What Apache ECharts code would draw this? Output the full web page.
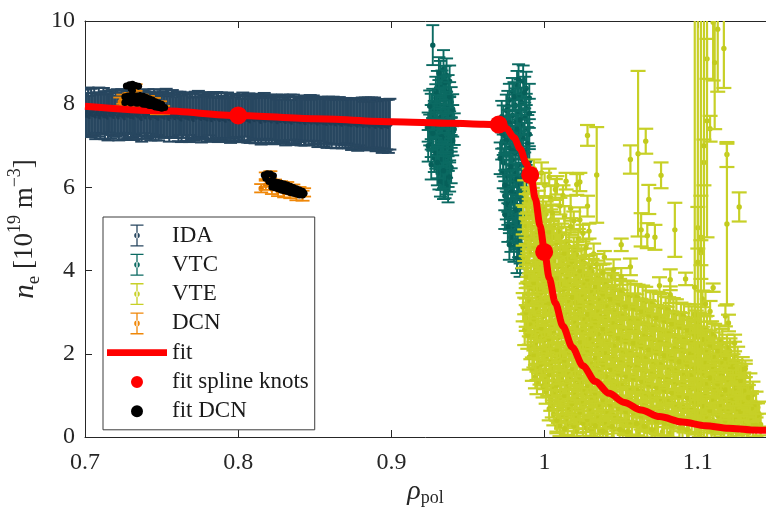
<!DOCTYPE html>
<html>
<head>
<meta charset="utf-8">
<title>n_e profile</title>
<script src="https://cdn.jsdelivr.net/npm/echarts@6.0.0/dist/echarts.min.js"></script>
<style>
  html, body { margin: 0; padding: 0; background: #fff; }
  #chart { width: 766px; height: 510px; }
</style>
</head>
<body>
<div id="chart"></div>
<script>
// Electron density profile: diagnostics with error bars, spline fit and its knots.
// Error-bar rows are [rho_pol, n_e (1e19 m^-3), half-width].

const xTicks = [0.7, 0.8, 0.9, 1, 1.1];
const yTicks = [0, 2, 4, 6, 8, 10];

const idaPts = [
[0.700,7.80,0.55],[0.701,7.74,0.52],[0.702,7.83,0.57],[0.703,7.71,0.49],[0.704,7.79,0.58],[0.705,7.76,0.51],[0.706,7.85,0.54],[0.707,7.72,0.56],[0.708,7.78,0.50],[0.709,7.81,0.59],
[0.710,7.70,0.53],[0.711,7.77,0.48],[0.712,7.84,0.55],[0.713,7.73,0.57],[0.714,7.79,0.52],[0.715,7.69,0.56],[0.716,7.82,0.50],[0.717,7.75,0.58],[0.718,7.80,0.54],[0.719,7.71,0.49],
[0.720,7.78,0.56],[0.721,7.83,0.53],[0.722,7.70,0.57],[0.723,7.76,0.51],[0.724,7.81,0.55],[0.725,7.73,0.59],[0.726,7.68,0.52],[0.727,7.79,0.48],[0.728,7.74,0.56],[0.729,7.82,0.54],
[0.730,7.71,0.50],[0.731,7.77,0.57],[0.732,7.69,0.55],[0.733,7.80,0.52],[0.734,7.75,0.58],[0.735,7.72,0.49],[0.736,7.78,0.54],[0.737,7.66,0.56],[0.738,7.81,0.51],[0.739,7.74,0.57],
[0.740,7.70,0.53],[0.741,7.77,0.59],[0.742,7.79,0.50],[0.743,7.68,0.55],[0.744,7.73,0.52],[0.745,7.80,0.56],[0.746,7.71,0.58],[0.747,7.75,0.49],[0.748,7.67,0.54],[0.749,7.78,0.57],
[0.750,7.72,0.52],[0.751,7.76,0.55],[0.752,7.69,0.50],[0.753,7.79,0.58],[0.754,7.74,0.53],[0.755,7.66,0.56],[0.756,7.71,0.51],[0.757,7.77,0.57],[0.758,7.73,0.54],[0.759,7.68,0.49],
[0.760,7.75,0.55],[0.761,7.70,0.59],[0.762,7.78,0.52],[0.763,7.65,0.56],[0.764,7.72,0.53],[0.765,7.76,0.50],[0.766,7.69,0.57],[0.767,7.74,0.54],[0.768,7.67,0.58],[0.769,7.77,0.51],
[0.770,7.71,0.55],[0.771,7.64,0.52],[0.772,7.73,0.57],[0.773,7.69,0.49],[0.774,7.76,0.56],[0.775,7.70,0.53],[0.776,7.66,0.58],[0.777,7.74,0.54],[0.778,7.68,0.51],[0.779,7.72,0.57],
[0.780,7.65,0.55],[0.781,7.75,0.50],[0.782,7.69,0.56],[0.783,7.63,0.53],[0.784,7.71,0.58],[0.785,7.67,0.52],[0.786,7.74,0.55],[0.787,7.68,0.59],[0.788,7.64,0.51],[0.789,7.72,0.56],
[0.790,7.66,0.54],[0.791,7.70,0.57],[0.792,7.62,0.52],[0.793,7.73,0.55],[0.794,7.67,0.50],[0.795,7.65,0.58],[0.796,7.71,0.53],[0.797,7.69,0.56],[0.798,7.63,0.54],[0.799,7.72,0.51],
[0.800,7.66,0.57],[0.801,7.68,0.55],[0.802,7.61,0.52],[0.803,7.70,0.58],[0.804,7.65,0.54],[0.805,7.72,0.50],[0.806,7.64,0.56],[0.807,7.67,0.59],[0.808,7.60,0.53],[0.809,7.69,0.55],
[0.810,7.66,0.51],[0.811,7.63,0.57],[0.812,7.71,0.54],[0.813,7.65,0.58],[0.814,7.68,0.52],[0.815,7.59,0.56],[0.816,7.66,0.53],[0.817,7.70,0.57],[0.818,7.62,0.55],[0.819,7.67,0.50],
[0.820,7.64,0.58],[0.821,7.69,0.54],[0.822,7.60,0.56],[0.823,7.66,0.52],[0.824,7.63,0.59],[0.825,7.68,0.55],[0.826,7.58,0.53],[0.827,7.65,0.57],[0.828,7.61,0.51],[0.829,7.67,0.56],
[0.830,7.63,0.54],[0.831,7.59,0.58],[0.832,7.66,0.52],[0.833,7.62,0.57],[0.834,7.68,0.55],[0.835,7.57,0.53],[0.836,7.64,0.59],[0.837,7.61,0.56],[0.838,7.66,0.51],[0.839,7.60,0.58],
[0.840,7.63,0.54],[0.841,7.58,0.57],[0.842,7.65,0.53],[0.843,7.61,0.60],[0.844,7.56,0.55],[0.845,7.64,0.52],[0.846,7.60,0.58],[0.847,7.66,0.56],[0.848,7.57,0.54],[0.849,7.62,0.59],
[0.850,7.59,0.55],[0.851,7.64,0.52],[0.852,7.55,0.58],[0.853,7.61,0.56],[0.854,7.58,0.60],[0.855,7.63,0.53],[0.856,7.56,0.57],[0.857,7.60,0.55],[0.858,7.54,0.59],[0.859,7.62,0.56],
[0.860,7.58,0.53],[0.861,7.55,0.60],[0.862,7.61,0.57],[0.863,7.57,0.54],[0.864,7.53,0.59],[0.865,7.60,0.56],[0.866,7.56,0.61],[0.867,7.59,0.55],[0.868,7.52,0.58],[0.869,7.58,0.56],
[0.870,7.55,0.60],[0.871,7.60,0.54],[0.872,7.53,0.59],[0.873,7.57,0.57],[0.874,7.51,0.61],[0.875,7.58,0.55],[0.876,7.54,0.60],[0.877,7.56,0.58],[0.878,7.50,0.62],[0.879,7.57,0.56],
[0.880,7.53,0.59],[0.881,7.55,0.61],[0.882,7.49,0.57],[0.883,7.56,0.60],[0.884,7.52,0.58],[0.885,7.54,0.62],[0.886,7.48,0.59],[0.887,7.55,0.61],[0.888,7.51,0.57],[0.889,7.53,0.63],
[0.890,7.47,0.60],[0.891,7.54,0.58],[0.892,7.50,0.62],[0.893,7.52,0.60],[0.894,7.46,0.63],[0.895,7.53,0.59],[0.896,7.49,0.62],[0.897,7.51,0.60],[0.898,7.47,0.64],[0.899,7.52,0.61]
];

const vtcPts = [
[0.927,9.42,0.48],
[0.934,8.85,0.45],[0.936,8.70,0.40],[0.932,8.62,0.42],[0.938,8.55,0.38],[0.933,8.45,0.36],[0.930,8.40,0.40],[0.935,8.32,0.35],[0.937,8.28,0.42],[0.931,8.20,0.38],
[0.929,8.15,0.33],[0.934,8.10,0.40],[0.939,8.05,0.36],[0.927,8.02,0.35],[0.932,7.98,0.42],[0.936,7.92,0.38],[0.930,7.88,0.34],[0.926,7.85,0.40],[0.934,7.80,0.37],[0.938,7.76,0.43],
[0.928,7.72,0.36],[0.932,7.68,0.40],[0.935,7.64,0.35],[0.940,7.60,0.38],[0.926,7.57,0.41],[0.930,7.53,0.36],[0.933,7.50,0.39],[0.937,7.46,0.34],[0.929,7.42,0.40],[0.925,7.38,0.37],
[0.934,7.35,0.42],[0.939,7.31,0.36],[0.931,7.27,0.38],[0.927,7.23,0.35],[0.936,7.19,0.41],[0.930,7.15,0.37],[0.933,7.11,0.40],[0.926,7.07,0.34],[0.938,7.03,0.38],[0.932,6.99,0.42],
[0.935,6.95,0.36],[0.929,6.90,0.39],[0.931,6.85,0.35],[0.937,6.80,0.40],[0.934,6.74,0.37],[0.928,6.70,0.33],[0.936,6.64,0.41],[0.932,6.58,0.38],[0.935,6.50,0.35],[0.930,6.45,0.40],
[0.937,6.38,0.37],[0.933,6.30,0.36],[0.936,6.22,0.39],[0.934,6.12,0.40],[0.937,6.02,0.38],
[0.931,8.75,0.38],[0.935,8.52,0.40],[0.929,8.30,0.36],[0.938,8.18,0.35],[0.925,7.95,0.38],[0.940,7.88,0.36],[0.928,7.62,0.40],[0.937,7.55,0.37],[0.924,7.45,0.35],[0.941,7.40,0.38],
[0.927,7.30,0.36],[0.933,7.22,0.40],[0.940,7.12,0.35],[0.924,7.00,0.38],[0.929,6.82,0.37],[0.939,6.86,0.40],[0.926,6.55,0.36],[0.933,6.68,0.35],[0.939,6.48,0.38],[0.931,6.35,0.40],
[0.935,6.10,0.36],[0.932,6.15,0.37],[0.938,6.25,0.35],[0.934,6.40,0.42],[0.930,6.60,0.38],
[0.986,8.55,0.38],[0.982,8.45,0.35],[0.988,8.38,0.40],[0.979,8.30,0.33],[0.984,8.22,0.37],[0.990,8.15,0.34],[0.977,8.10,0.39],[0.985,8.04,0.36],[0.981,7.97,0.41],[0.988,7.90,0.35],
[0.975,7.85,0.38],[0.983,7.80,0.34],[0.979,7.73,0.40],[0.987,7.67,0.37],[0.973,7.62,0.35],[0.981,7.57,0.39],[0.985,7.51,0.36],[0.976,7.45,0.41],[0.989,7.40,0.34],[0.978,7.35,0.38],
[0.983,7.29,0.35],[0.974,7.23,0.40],[0.986,7.18,0.37],[0.980,7.12,0.36],[0.972,7.06,0.39],[0.984,7.01,0.34],[0.977,6.95,0.40],[0.988,6.90,0.36],[0.981,6.84,0.38],[0.975,6.78,0.35],
[0.985,6.72,0.41],[0.979,6.66,0.37],[0.973,6.60,0.34],[0.983,6.54,0.39],[0.987,6.48,0.36],[0.977,6.42,0.40],[0.981,6.35,0.35],[0.975,6.28,0.38],[0.985,6.22,0.37],[0.979,6.15,0.41],
[0.983,6.08,0.34],[0.976,6.01,0.39],[0.986,5.94,0.36],[0.980,5.87,0.38],[0.974,5.80,0.35],[0.984,5.72,0.40],[0.978,5.65,0.37],[0.982,5.57,0.34],[0.976,5.49,0.39],[0.985,5.41,0.36],
[0.980,5.33,0.38],[0.977,5.25,0.35],[0.983,5.16,0.40],[0.979,5.07,0.37],[0.984,4.98,0.36],[0.981,4.89,0.39],[0.978,4.80,0.35],[0.983,4.70,0.38],[0.980,4.58,0.37],[0.985,4.45,0.40],
[0.982,4.30,0.36],[0.984,4.20,0.35],
[0.983,8.60,0.36],[0.987,8.28,0.38],[0.980,8.18,0.35],[0.976,7.95,0.37],[0.990,7.78,0.35],[0.972,7.70,0.38],[0.984,7.62,0.36],[0.977,7.55,0.40],[0.990,7.28,0.36],[0.972,7.30,0.37],
[0.982,7.40,0.35],[0.975,7.12,0.38],[0.989,7.05,0.40],[0.979,6.88,0.36],[0.971,6.70,0.38],[0.990,6.62,0.37],[0.978,6.50,0.35],[0.973,6.38,0.40],[0.988,6.30,0.36],[0.982,6.20,0.38],
[0.974,6.05,0.36],[0.988,5.98,0.35],[0.978,5.90,0.40],[0.975,5.60,0.37],[0.986,5.62,0.36],[0.981,5.45,0.38],[0.974,5.35,0.35],[0.986,5.20,0.37],[0.976,5.05,0.36],[0.982,4.95,0.40],
[0.977,4.62,0.36],[0.984,4.55,0.38]
];

const vtePts = [
[0.987,5.85,0.32],[0.988,5.56,0.28],[0.986,5.22,0.35],[0.988,4.94,0.30],[0.987,4.61,0.38],[0.986,4.33,0.27],[0.988,4.02,0.33],[0.987,3.71,0.36],[0.989,3.44,0.29],[0.986,3.12,0.34],[0.988,2.86,0.31],[0.987,2.58,0.37],
[0.991,5.92,0.30],[0.992,5.63,0.36],[0.990,5.35,0.28],[0.992,5.04,0.33],[0.991,4.76,0.40],[0.990,4.47,0.31],[0.993,4.15,0.35],[0.991,3.88,0.29],[0.992,3.57,0.37],[0.990,3.26,0.32],[0.992,2.98,0.36],[0.991,2.70,0.30],[0.993,2.42,0.34],[0.991,2.18,0.31],[0.990,1.92,0.30],[0.992,1.63,0.28],
[0.996,5.58,0.34],[0.995,5.30,0.29],[0.997,5.01,0.37],[0.996,4.72,0.31],[0.995,4.45,0.35],[0.997,4.13,0.28],[0.996,3.86,0.39],[0.995,3.55,0.32],[0.997,3.27,0.36],[0.996,2.97,0.30],[0.994,2.70,0.34],[0.997,2.42,0.29],[0.995,2.13,0.37],[0.996,1.84,0.31],[0.997,1.56,0.30],[0.995,1.30,0.27],
[1.001,5.36,0.30],[1.000,5.07,0.36],[1.002,4.79,0.31],[1.001,4.50,0.34],[1.000,4.19,0.28],[1.002,3.93,0.38],[1.001,3.62,0.32],[1.000,3.34,0.35],[1.003,3.05,0.29],[1.001,2.76,0.37],[1.000,2.47,0.31],[1.002,2.18,0.34],[1.001,1.90,0.30],[1.000,1.60,0.36],[1.002,1.31,0.32],[1.001,1.08,0.28],
[1.006,5.08,0.33],[1.005,4.80,0.29],[1.007,4.52,0.36],[1.006,4.23,0.31],[1.005,3.95,0.35],[1.007,3.66,0.28],[1.006,3.37,0.38],[1.005,3.08,0.31],[1.007,2.80,0.34],[1.006,2.51,0.29],[1.004,2.22,0.36],[1.007,1.94,0.32],[1.005,1.65,0.30],[1.006,1.36,0.35],[1.007,1.07,0.29],[1.005,0.80,0.33],[1.006,0.55,0.27],[1.008,0.24,0.15],
[1.011,4.82,0.31],[1.010,4.53,0.37],[1.012,4.25,0.30],[1.011,3.96,0.34],[1.010,3.68,0.29],[1.012,3.40,0.36],[1.011,3.11,0.31],[1.010,2.82,0.35],[1.013,2.54,0.28],[1.011,2.25,0.37],[1.010,1.96,0.32],[1.012,1.67,0.34],[1.011,1.39,0.29],[1.010,1.10,0.36],[1.012,0.82,0.31],[1.011,0.53,0.33],[1.010,0.28,0.26],
[1.016,4.58,0.34],[1.015,4.30,0.29],[1.017,4.01,0.36],[1.016,3.73,0.31],[1.015,3.44,0.35],[1.017,3.16,0.28],[1.016,2.87,0.37],[1.015,2.58,0.32],[1.017,2.30,0.34],[1.016,2.01,0.29],[1.014,1.72,0.36],[1.017,1.44,0.31],[1.015,1.15,0.35],[1.016,0.87,0.29],[1.017,0.58,0.33],[1.015,0.32,0.27],
[1.021,4.38,0.31],[1.020,4.10,0.36],[1.022,3.81,0.30],[1.021,3.53,0.34],[1.020,3.24,0.29],[1.022,2.96,0.37],[1.021,2.67,0.31],[1.020,2.39,0.35],[1.023,2.10,0.28],[1.021,1.82,0.36],[1.020,1.53,0.32],[1.022,1.25,0.34],[1.021,0.96,0.29],[1.020,0.68,0.35],[1.022,0.40,0.30],[1.021,0.15,0.26],
[1.026,4.18,0.35],[1.025,3.90,0.29],[1.027,3.61,0.36],[1.026,3.33,0.31],[1.025,3.05,0.34],[1.027,2.76,0.28],[1.026,2.48,0.37],[1.025,2.19,0.31],[1.027,1.91,0.35],[1.026,1.62,0.29],[1.024,1.34,0.36],[1.027,1.05,0.32],[1.025,0.77,0.34],[1.026,0.49,0.30],[1.027,0.22,0.27],
[1.031,3.98,0.30],[1.030,3.70,0.36],[1.032,3.42,0.31],[1.031,3.13,0.34],[1.030,2.85,0.29],[1.032,2.57,0.37],[1.031,2.28,0.31],[1.030,2.00,0.35],[1.033,1.72,0.28],[1.031,1.43,0.36],[1.030,1.15,0.32],[1.032,0.87,0.34],[1.031,0.58,0.29],[1.030,0.32,0.30],[1.032,0.12,0.25],
[1.036,3.80,0.34],[1.035,3.52,0.29],[1.037,3.23,0.36],[1.036,2.95,0.31],[1.035,2.67,0.35],[1.037,2.38,0.28],[1.036,2.10,0.37],[1.035,1.82,0.31],[1.037,1.53,0.34],[1.036,1.25,0.29],[1.034,0.97,0.36],[1.037,0.68,0.31],[1.035,0.41,0.33],[1.036,0.16,0.27],
[1.041,3.64,0.31],[1.040,3.36,0.36],[1.042,3.08,0.30],[1.041,2.80,0.34],[1.040,2.52,0.29],[1.042,2.23,0.37],[1.041,1.95,0.31],[1.040,1.67,0.35],[1.043,1.39,0.28],[1.041,1.11,0.36],[1.040,0.83,0.32],[1.042,0.55,0.34],[1.041,0.28,0.29],[1.040,0.10,0.24],
[1.046,3.54,0.35],[1.045,3.26,0.29],[1.047,2.98,0.36],[1.046,2.70,0.31],[1.045,2.42,0.34],[1.047,2.13,0.28],[1.046,1.85,0.37],[1.045,1.57,0.31],[1.047,1.29,0.35],[1.046,1.01,0.29],[1.044,0.73,0.36],[1.047,0.46,0.31],[1.045,0.20,0.28],
[1.051,3.45,0.30],[1.050,3.17,0.36],[1.052,2.89,0.31],[1.051,2.61,0.34],[1.050,2.33,0.29],[1.052,2.05,0.37],[1.051,1.77,0.31],[1.050,1.49,0.35],[1.053,1.21,0.28],[1.051,0.93,0.36],[1.050,0.65,0.32],[1.052,0.38,0.33],[1.051,0.14,0.26],
[1.056,3.40,0.34],[1.055,3.12,0.29],[1.057,2.84,0.36],[1.056,2.56,0.31],[1.055,2.28,0.35],[1.057,2.00,0.28],[1.056,1.72,0.37],[1.055,1.44,0.31],[1.057,1.16,0.34],[1.056,0.88,0.29],[1.054,0.60,0.36],[1.057,0.33,0.31],[1.055,0.12,0.26],
[1.061,3.35,0.31],[1.060,3.07,0.36],[1.062,2.79,0.30],[1.061,2.51,0.34],[1.060,2.23,0.29],[1.062,1.95,0.37],[1.061,1.67,0.31],[1.060,1.39,0.35],[1.063,1.11,0.28],[1.061,0.83,0.36],[1.060,0.56,0.32],[1.062,0.30,0.30],[1.061,0.11,0.25],
[1.066,3.26,0.35],[1.065,2.98,0.29],[1.067,2.70,0.36],[1.066,2.42,0.31],[1.065,2.14,0.34],[1.067,1.86,0.28],[1.066,1.58,0.37],[1.065,1.30,0.31],[1.067,1.02,0.35],[1.066,0.75,0.29],[1.064,0.48,0.34],[1.067,0.22,0.28],
[1.071,3.18,0.30],[1.070,2.90,0.36],[1.072,2.62,0.31],[1.071,2.34,0.34],[1.070,2.06,0.29],[1.072,1.78,0.37],[1.071,1.50,0.31],[1.070,1.22,0.35],[1.073,0.95,0.28],[1.071,0.68,0.36],[1.070,0.41,0.31],[1.072,0.16,0.27],
[1.076,3.12,0.34],[1.075,2.84,0.29],[1.077,2.56,0.36],[1.076,2.28,0.31],[1.075,2.00,0.35],[1.077,1.72,0.28],[1.076,1.44,0.37],[1.075,1.16,0.31],[1.077,0.89,0.34],[1.076,0.62,0.29],[1.074,0.36,0.33],[1.077,0.13,0.26],
[1.081,3.05,0.31],[1.080,2.77,0.36],[1.082,2.49,0.30],[1.081,2.21,0.34],[1.080,1.93,0.29],[1.082,1.65,0.37],[1.081,1.37,0.31],[1.080,1.10,0.35],[1.083,0.83,0.28],[1.081,0.56,0.35],[1.080,0.30,0.30],[1.082,0.10,0.24],
[1.086,2.96,0.35],[1.085,2.68,0.29],[1.087,2.40,0.36],[1.086,2.12,0.31],[1.085,1.84,0.34],[1.087,1.56,0.28],[1.086,1.29,0.37],[1.085,1.02,0.31],[1.087,0.75,0.35],[1.086,0.49,0.29],[1.084,0.24,0.30],
[1.091,2.90,0.30],[1.090,2.62,0.36],[1.092,2.34,0.31],[1.091,2.06,0.34],[1.090,1.79,0.29],[1.092,1.52,0.37],[1.091,1.25,0.31],[1.090,0.98,0.35],[1.093,0.71,0.28],[1.091,0.45,0.34],[1.090,0.20,0.28],
[1.096,2.80,0.34],[1.095,2.52,0.29],[1.097,2.24,0.36],[1.096,1.97,0.31],[1.095,1.70,0.35],[1.097,1.43,0.28],[1.096,1.16,0.37],[1.095,0.89,0.31],[1.097,0.63,0.34],[1.096,0.38,0.29],[1.094,0.15,0.26],
[1.101,2.68,0.31],[1.100,2.41,0.36],[1.102,2.14,0.30],[1.101,1.87,0.34],[1.100,1.60,0.29],[1.102,1.33,0.37],[1.101,1.06,0.31],[1.100,0.80,0.35],[1.103,0.54,0.28],[1.101,0.30,0.30],[1.100,0.10,0.24],
[1.106,2.56,0.35],[1.105,2.29,0.29],[1.107,2.02,0.36],[1.106,1.75,0.31],[1.105,1.48,0.34],[1.107,1.21,0.28],[1.106,0.95,0.37],[1.105,0.69,0.31],[1.107,0.44,0.33],[1.106,0.20,0.27],
[1.111,2.42,0.30],[1.110,2.15,0.36],[1.112,1.88,0.31],[1.111,1.61,0.34],[1.110,1.35,0.29],[1.112,1.09,0.37],[1.111,0.83,0.31],[1.110,0.58,0.34],[1.113,0.34,0.28],[1.111,0.12,0.25],
[1.116,2.26,0.34],[1.115,1.99,0.29],[1.117,1.72,0.36],[1.116,1.46,0.31],[1.115,1.20,0.35],[1.117,0.94,0.28],[1.116,0.69,0.36],[1.115,0.45,0.31],[1.117,0.22,0.27],
[1.121,2.06,0.31],[1.120,1.80,0.36],[1.122,1.54,0.30],[1.121,1.28,0.34],[1.120,1.03,0.29],[1.122,0.78,0.36],[1.121,0.54,0.31],[1.120,0.30,0.30],[1.122,0.10,0.24],
[1.126,1.82,0.35],[1.125,1.56,0.29],[1.127,1.30,0.36],[1.126,1.05,0.31],[1.125,0.80,0.34],[1.127,0.56,0.28],[1.126,0.33,0.30],[1.125,0.13,0.25],
[1.131,1.46,0.30],[1.130,1.20,0.35],[1.132,0.95,0.31],[1.131,0.71,0.34],[1.130,0.48,0.29],[1.132,0.26,0.30],
[1.136,1.02,0.31],[1.135,0.76,0.34],[1.137,0.52,0.29],[1.136,0.30,0.30],
[1.140,0.55,0.30],[1.141,0.30,0.26],
[0.989,5.70,0.30],[0.990,5.38,0.34],[0.988,5.08,0.29],[0.989,4.78,0.36],[0.990,4.46,0.31],[0.989,4.18,0.33],[0.988,3.86,0.28],[0.990,3.58,0.35],[0.989,3.28,0.31],[0.988,2.99,0.34],[0.990,2.72,0.30],[0.989,2.45,0.33],
[0.994,5.75,0.33],[0.993,5.45,0.29],[0.995,5.15,0.35],[0.994,4.86,0.30],[0.993,4.58,0.36],[0.995,4.30,0.31],[0.994,4.00,0.34],[0.993,3.71,0.28],[0.995,3.41,0.35],[0.994,3.11,0.31],[0.993,2.84,0.33],[0.995,2.56,0.29],[0.994,2.27,0.36],[0.993,1.98,0.31],[0.995,1.70,0.33],[0.994,1.45,0.28],
[0.999,5.48,0.31],[0.998,5.20,0.35],[1.000,4.92,0.29],[0.999,4.63,0.34],[0.998,4.33,0.31],[1.000,4.05,0.36],[0.999,3.77,0.30],[0.998,3.48,0.33],[1.000,3.20,0.28],[0.999,2.90,0.35],[0.998,2.62,0.31],[1.000,2.33,0.34],[0.999,2.04,0.29],[0.998,1.75,0.35],[1.000,1.46,0.31],[0.999,1.22,0.27],
[1.004,5.22,0.34],[1.003,4.93,0.30],[1.005,4.65,0.35],[1.004,4.37,0.31],[1.003,4.08,0.33],[1.005,3.80,0.29],[1.004,3.51,0.36],[1.003,3.22,0.31],[1.005,2.94,0.34],[1.004,2.65,0.30],[1.003,2.36,0.35],[1.005,2.08,0.31],[1.004,1.79,0.33],[1.003,1.50,0.29],[1.005,1.22,0.34],[1.004,0.94,0.31],[1.003,0.68,0.28],
[1.009,4.95,0.30],[1.008,4.67,0.35],[1.010,4.38,0.31],[1.009,4.10,0.33],[1.008,3.82,0.29],[1.010,3.53,0.36],[1.009,3.25,0.31],[1.008,2.96,0.34],[1.010,2.68,0.30],[1.009,2.39,0.35],[1.008,2.10,0.31],[1.010,1.82,0.33],[1.009,1.53,0.29],[1.008,1.24,0.34],[1.010,0.96,0.31],[1.009,0.67,0.33],[1.008,0.40,0.27],
[1.014,4.70,0.34],[1.013,4.42,0.30],[1.015,4.13,0.35],[1.014,3.85,0.31],[1.013,3.56,0.33],[1.015,3.28,0.29],[1.014,2.99,0.36],[1.013,2.71,0.31],[1.015,2.42,0.34],[1.014,2.14,0.30],[1.013,1.85,0.35],[1.015,1.57,0.31],[1.014,1.28,0.33],[1.013,1.00,0.29],[1.015,0.71,0.34],[1.014,0.44,0.30],[1.013,0.20,0.26],
[1.019,4.50,0.30],[1.018,4.22,0.35],[1.020,3.93,0.31],[1.019,3.65,0.33],[1.018,3.36,0.29],[1.020,3.08,0.36],[1.019,2.79,0.31],[1.018,2.51,0.34],[1.020,2.22,0.30],[1.019,1.94,0.35],[1.018,1.65,0.31],[1.020,1.37,0.33],[1.019,1.08,0.29],[1.018,0.80,0.34],[1.020,0.52,0.31],[1.019,0.27,0.27],
[1.024,4.28,0.34],[1.023,4.00,0.30],[1.025,3.71,0.35],[1.024,3.43,0.31],[1.023,3.15,0.33],[1.025,2.86,0.29],[1.024,2.58,0.36],[1.023,2.29,0.31],[1.025,2.01,0.34],[1.024,1.72,0.30],[1.023,1.44,0.35],[1.025,1.15,0.31],[1.024,0.87,0.33],[1.023,0.60,0.29],[1.025,0.33,0.30],
[1.029,4.08,0.30],[1.028,3.80,0.35],[1.030,3.52,0.31],[1.029,3.23,0.33],[1.028,2.95,0.29],[1.030,2.67,0.36],[1.029,2.38,0.31],[1.028,2.10,0.34],[1.030,1.81,0.30],[1.029,1.53,0.35],[1.028,1.24,0.31],[1.030,0.96,0.33],[1.029,0.68,0.29],[1.028,0.42,0.30],[1.030,0.20,0.26],
[1.034,3.90,0.34],[1.033,3.62,0.30],[1.035,3.33,0.35],[1.034,3.05,0.31],[1.033,2.77,0.33],[1.035,2.48,0.29],[1.034,2.20,0.36],[1.033,1.91,0.31],[1.035,1.63,0.34],[1.034,1.34,0.30],[1.033,1.06,0.35],[1.035,0.78,0.31],[1.034,0.51,0.30],[1.033,0.27,0.27],
[1.039,3.72,0.30],[1.038,3.44,0.35],[1.040,3.16,0.31],[1.039,2.88,0.33],[1.038,2.60,0.29],[1.040,2.31,0.36],[1.039,2.03,0.31],[1.038,1.75,0.34],[1.040,1.46,0.30],[1.039,1.18,0.35],[1.038,0.90,0.31],[1.040,0.62,0.33],[1.039,0.36,0.29],[1.038,0.14,0.25],
[1.044,3.60,0.34],[1.043,3.32,0.30],[1.045,3.04,0.35],[1.044,2.76,0.31],[1.043,2.48,0.33],[1.045,2.19,0.29],[1.044,1.91,0.36],[1.043,1.63,0.31],[1.045,1.35,0.34],[1.044,1.06,0.30],[1.043,0.78,0.35],[1.045,0.51,0.31],[1.044,0.25,0.28],
[1.049,3.50,0.30],[1.048,3.22,0.35],[1.050,2.94,0.31],[1.049,2.66,0.33],[1.048,2.38,0.29],[1.050,2.09,0.36],[1.049,1.81,0.31],[1.048,1.53,0.34],[1.050,1.25,0.30],[1.049,0.97,0.35],[1.048,0.69,0.31],[1.050,0.42,0.33],[1.049,0.18,0.26],
[1.054,3.42,0.34],[1.053,3.14,0.30],[1.055,2.86,0.35],[1.054,2.58,0.31],[1.053,2.30,0.33],[1.055,2.02,0.29],[1.054,1.74,0.36],[1.053,1.46,0.31],[1.055,1.18,0.34],[1.054,0.90,0.30],[1.053,0.62,0.35],[1.055,0.36,0.30],[1.054,0.13,0.25],
[1.059,3.38,0.30],[1.058,3.10,0.35],[1.060,2.82,0.31],[1.059,2.54,0.33],[1.058,2.26,0.29],[1.060,1.98,0.36],[1.059,1.70,0.31],[1.058,1.42,0.34],[1.060,1.14,0.30],[1.059,0.86,0.35],[1.058,0.58,0.31],[1.060,0.32,0.28],
[1.064,3.30,0.34],[1.063,3.02,0.30],[1.065,2.74,0.35],[1.064,2.46,0.31],[1.063,2.18,0.33],[1.065,1.90,0.29],[1.064,1.62,0.36],[1.063,1.34,0.31],[1.065,1.06,0.34],[1.064,0.78,0.30],[1.063,0.51,0.33],[1.065,0.26,0.27],
[1.069,3.22,0.30],[1.068,2.94,0.35],[1.070,2.66,0.31],[1.069,2.38,0.33],[1.068,2.10,0.29],[1.070,1.82,0.36],[1.069,1.54,0.31],[1.068,1.26,0.34],[1.070,0.98,0.30],[1.069,0.71,0.35],[1.068,0.44,0.31],[1.070,0.18,0.26],
[1.074,3.15,0.34],[1.073,2.87,0.30],[1.075,2.59,0.35],[1.074,2.31,0.31],[1.073,2.03,0.33],[1.075,1.75,0.29],[1.074,1.47,0.36],[1.073,1.19,0.31],[1.075,0.92,0.34],[1.074,0.65,0.30],[1.073,0.38,0.31],
[1.079,3.08,0.30],[1.078,2.80,0.35],[1.080,2.52,0.31],[1.079,2.24,0.33],[1.078,1.96,0.29],[1.080,1.68,0.36],[1.079,1.40,0.31],[1.078,1.13,0.34],[1.080,0.86,0.30],[1.079,0.59,0.35],[1.078,0.33,0.29],
[1.084,3.00,0.34],[1.083,2.72,0.30],[1.085,2.44,0.35],[1.084,2.16,0.31],[1.083,1.88,0.33],[1.085,1.60,0.29],[1.084,1.33,0.36],[1.083,1.06,0.31],[1.085,0.79,0.34],[1.084,0.52,0.30],[1.083,0.27,0.28],
[1.089,2.93,0.30],[1.088,2.65,0.35],[1.090,2.37,0.31],[1.089,2.09,0.33],[1.088,1.81,0.29],[1.090,1.54,0.36],[1.089,1.27,0.31],[1.088,1.00,0.34],[1.090,0.73,0.30],[1.089,0.47,0.33],[1.088,0.22,0.27],
[1.094,2.85,0.34],[1.093,2.57,0.30],[1.095,2.29,0.35],[1.094,2.02,0.31],[1.093,1.75,0.33],[1.095,1.48,0.29],[1.094,1.21,0.36],[1.093,0.94,0.31],[1.095,0.68,0.34],[1.094,0.42,0.30],[1.093,0.18,0.26],
[1.099,2.74,0.30],[1.098,2.46,0.35],[1.100,2.19,0.31],[1.099,1.92,0.33],[1.098,1.65,0.29],[1.100,1.38,0.36],[1.099,1.11,0.31],[1.098,0.85,0.34],[1.100,0.59,0.30],[1.099,0.35,0.29],
[1.104,2.62,0.34],[1.103,2.35,0.30],[1.105,2.08,0.35],[1.104,1.81,0.31],[1.103,1.54,0.33],[1.105,1.27,0.29],[1.104,1.01,0.36],[1.103,0.75,0.31],[1.105,0.49,0.33],[1.104,0.25,0.27],
[1.109,2.48,0.30],[1.108,2.21,0.35],[1.110,1.94,0.31],[1.109,1.68,0.33],[1.108,1.42,0.29],[1.110,1.16,0.36],[1.109,0.90,0.31],[1.108,0.64,0.34],[1.110,0.39,0.30],[1.109,0.16,0.25],
[1.114,2.34,0.34],[1.113,2.07,0.30],[1.115,1.80,0.35],[1.114,1.54,0.31],[1.113,1.28,0.33],[1.115,1.02,0.29],[1.114,0.76,0.36],[1.113,0.51,0.31],[1.115,0.27,0.27],
[1.119,2.16,0.30],[1.118,1.90,0.35],[1.120,1.64,0.31],[1.119,1.38,0.33],[1.118,1.13,0.29],[1.120,0.88,0.36],[1.119,0.63,0.31],[1.118,0.39,0.30],[1.120,0.17,0.25],
[1.124,1.95,0.34],[1.123,1.69,0.30],[1.125,1.43,0.35],[1.124,1.18,0.31],[1.123,0.93,0.33],[1.125,0.68,0.29],[1.124,0.44,0.31],[1.123,0.22,0.27],
[1.129,1.62,0.30],[1.128,1.36,0.35],[1.130,1.11,0.31],[1.129,0.86,0.33],[1.128,0.62,0.29],[1.130,0.38,0.31],[1.129,0.16,0.25],
[1.134,1.20,0.33],[1.133,0.95,0.30],[1.135,0.70,0.34],[1.134,0.46,0.29],[1.133,0.23,0.27],
[1.138,0.78,0.31],[1.139,0.52,0.29],[1.138,0.28,0.27],
[0.990,6.20,0.25],[0.993,6.45,0.22],[0.998,6.35,0.25],[1.000,6.05,0.30],[1.003,6.25,0.20],[1.004,5.75,0.28],[1.008,6.05,0.22],[1.012,5.80,0.25],[1.014,6.15,0.20],[1.017,5.50,0.30],
[1.019,5.20,0.22],[1.013,5.30,0.25],[1.022,4.75,0.25],[1.027,4.55,0.20],[1.032,4.40,0.25],[1.029,4.95,0.18],[1.034,4.15,0.25],[1.038,3.95,0.20],[1.044,3.85,0.20],[1.010,5.55,0.20],
[1.028,7.25,0.25],[1.034,6.30,1.15],[1.021,6.07,0.25],[1.023,6.13,0.22],[1.028,5.55,0.25],[1.023,5.22,0.30],[1.017,5.06,0.20],[1.025,4.90,0.20],[1.005,5.39,0.20],[1.007,5.95,0.25],
[1.056,6.67,0.34],[1.061,6.81,1.99],[1.066,7.11,0.30],[1.068,5.71,0.35],[1.076,6.29,0.31],[1.085,4.98,0.65],[1.063,4.98,0.40],[1.067,4.84,0.30],[1.072,4.80,0.30],[1.050,4.62,0.15],
[1.039,4.32,0.15],[1.056,4.09,0.20],[1.050,3.86,0.20],[1.075,3.64,0.20],[1.082,3.78,0.25],[1.082,3.42,0.20],[1.092,3.80,0.15],[1.045,4.02,0.25],
[1.106,9.09,0.48],[1.110,9.97,1.40],[1.117,9.34,0.95],[1.108,7.41,0.31],[1.104,6.60,0.55],[1.119,6.79,0.30],[1.119,5.12,1.93],[1.127,5.53,0.35],[1.100,5.03,0.50],[1.102,4.80,1.00],
[1.102,4.43,0.30],[1.103,3.32,0.20],[1.105,3.20,0.30],[1.110,3.59,0.10],[1.108,3.02,0.25],[1.118,2.91,0.25],[1.120,2.74,0.20],[1.124,2.26,0.20],[1.131,1.64,0.20],[1.098,2.94,0.25],
[1.098,3.60,7.00],[1.100,4.20,6.50],[1.102,4.50,6.00],[1.104,7.00,3.50],[1.106,7.60,2.80],[1.111,9.00,1.60],[1.113,9.80,1.50]
];

const dcnPts = [
[0.723,8.06,0.10],[0.725,8.12,0.11],[0.727,8.00,0.12],[0.729,8.16,0.10],[0.731,8.05,0.13],[0.733,8.14,0.11],[0.735,7.98,0.12],[0.737,8.12,0.11],[0.739,7.96,0.13],[0.741,8.08,0.12],
[0.743,7.92,0.11],[0.745,8.02,0.13],[0.747,7.88,0.12],[0.749,7.96,0.11],[0.751,7.86,0.10],[0.730,8.36,0.09],[0.733,8.40,0.08],
[0.815,5.98,0.10],[0.818,6.05,0.11],[0.820,6.12,0.10],[0.822,5.96,0.12],[0.824,6.08,0.11],[0.826,5.92,0.13],[0.828,6.04,0.11],[0.830,5.88,0.12],[0.832,6.00,0.13],[0.834,5.85,0.11],
[0.836,5.95,0.12],[0.838,5.82,0.13],[0.840,5.90,0.11],[0.842,5.80,0.12],[0.843,5.88,0.10],[0.818,6.28,0.08],[0.821,6.30,0.09]
];

const dcnFitPts = [
[0.727,8.44],[0.729,8.47],[0.731,8.48],[0.733,8.45],[0.735,8.43],[0.730,8.38],[0.731,8.33],
[0.726,8.18],[0.728,8.20],[0.730,8.21],[0.732,8.19],[0.734,8.20],[0.736,8.21],[0.738,8.19],[0.740,8.16],[0.742,8.13],[0.744,8.10],[0.746,8.06],[0.748,8.03],[0.750,8.00],
[0.726,8.04],[0.728,8.06],[0.730,8.03],[0.732,8.05],[0.734,8.02],[0.736,8.03],[0.738,8.00],[0.740,7.99],[0.742,7.97],[0.744,7.96],[0.746,7.93],[0.748,7.92],[0.750,7.90],[0.752,7.92],
[0.729,8.12],[0.733,8.12],[0.737,8.11],[0.741,8.07],[0.745,8.01],[0.749,7.96],
[0.817,6.30],[0.819,6.33],[0.821,6.32],[0.823,6.28],[0.818,6.22],
[0.820,6.14],[0.822,6.16],[0.824,6.13],[0.826,6.12],[0.828,6.10],[0.830,6.08],[0.832,6.06],[0.834,6.03],[0.836,6.00],[0.838,5.97],[0.840,5.94],[0.842,5.91],
[0.822,6.01],[0.824,5.99],[0.826,5.97],[0.828,5.94],[0.830,5.92],[0.832,5.90],[0.834,5.88],[0.836,5.86],[0.838,5.84],[0.840,5.82],[0.842,5.82],[0.843,5.86],
[0.825,6.05],[0.829,6.01],[0.833,5.97],[0.837,5.92],[0.841,5.88]
];

const fitRho = [0.700,0.750,0.800,0.850,0.900,0.940,0.960,0.970,0.975,0.980,0.984,0.988,0.991,0.994,0.997,1.000,1.003,1.007,1.012,1.018,1.025,1.033,1.042,1.052,1.063,1.075,1.090,1.105,1.120,1.135,1.150];
const fitNe  = [7.95,7.84,7.73,7.65,7.58,7.54,7.52,7.50,7.42,7.20,6.93,6.58,6.29,5.72,5.08,4.45,3.82,3.22,2.66,2.16,1.71,1.34,1.05,0.83,0.65,0.49,0.36,0.27,0.21,0.17,0.15];

const knotRho = [0.800,0.970,0.9906,0.9997];
const knotNe  = [7.73,7.51,6.30,4.45];

const seriesNames = ['IDA', 'VTC', 'VTE', 'DCN', 'fit', 'fit spline knots', 'fit DCN'];

// ---------------------------------------------------------------------------
const SERIF = "'Liberation Serif', 'Times New Roman', serif";
const INK = '#262626';

function errorBars(barColor, dotColor, capHalf, dotR, lineW) {
  return function (params, api) {
    const x = api.value(0), y = api.value(1), e = api.value(2);
    const top = api.coord([x, y + e]);
    const bot = api.coord([x, y - e]);
    const mid = api.coord([x, y]);
    const ls = { stroke: barColor, lineWidth: lineW };
    return {
      type: 'group',
      children: [
        { type: 'line', shape: { x1: top[0], y1: top[1], x2: bot[0], y2: bot[1] }, style: ls },
        { type: 'line', shape: { x1: top[0] - capHalf, y1: top[1], x2: top[0] + capHalf, y2: top[1] }, style: ls },
        { type: 'line', shape: { x1: bot[0] - capHalf, y1: bot[1], x2: bot[0] + capHalf, y2: bot[1] }, style: ls },
        { type: 'circle', shape: { cx: mid[0], cy: mid[1], r: dotR }, style: { fill: dotColor } }
      ]
    };
  };
}

function errSeries(name, data, barColor, dotColor, lineW, capHalf) {
  return {
    name: name, type: 'custom', data: data,
    dimensions: ['rho', 'ne', 'err'], encode: { x: 'rho', y: 'ne' },
    renderItem: errorBars(barColor, dotColor, capHalf, 2.7, lineW),
    itemStyle: { color: barColor, opacity: 1 }, clip: true, silent: true
  };
}

// Legend glyphs in a 60x22 box (corner specks fix the box size).
const BOX = 'M0,0h0.01v0.01h-0.01z M59.99,21.99h0.01v0.01h-0.01z ';
const ICON_ERR = 'path://' + BOX + 'M23.5,0h13v1.3h-13z M29.35,0h1.3v22h-1.3z M23.5,20.7h13v1.3h-13z M27.2,11a2.8,2.8 0 1 0 5.6,0a2.8,2.8 0 1 0 -5.6,0z';
const ICON_LINE = 'path://' + BOX + 'M0,7.6h60v6.8h-60z';
const ICON_DOT = 'path://' + BOX + 'M24,11a6,6 0 1 0 12,0a6,6 0 1 0 -12,0z';

const COLORS = { IDA: '#284760', VTC: '#0b6a62', VTE: '#c7d027', DCN: '#ef8708', fit: '#ff0000', knots: '#ff0000', fitDCN: '#000000' };

const fitLine = fitRho.map((r, i) => [r, fitNe[i]]);
const knots = knotRho.map((r, i) => [r, knotNe[i]]);

const chart = echarts.init(document.getElementById('chart'), null, { renderer: 'canvas' });

const axisCommon = {
  type: 'value',
  axisLine: { show: true, lineStyle: { color: INK, width: 1 } },
  axisTick: { show: true, inside: true, length: 7, lineStyle: { color: INK, width: 1 } },
  splitLine: { show: false },
  nameMoveOverlap: false
};

chart.setOption({
  animation: false,
  backgroundColor: '#ffffff',
  grid: { left: 85, right: 0, top: 21, bottom: 73, outerBoundsMode: 'none', containLabel: false },
  xAxis: [
    Object.assign({}, axisCommon, {
      position: 'bottom', min: 0.7, max: 1.1445, interval: 0.1,
      axisLabel: {
        show: true, margin: 14, fontFamily: SERIF, fontSize: 24, color: INK,
        showMaxLabel: false,
        formatter: v => { const t = xTicks.find(k => Math.abs(k - v) < 1e-6); return t === undefined ? '' : String(t); }
      },
      name: '{r|ρ}{s|pol}', nameLocation: 'middle', nameGap: 40,
      nameTextStyle: {
        rich: {
          r: { fontFamily: SERIF, fontStyle: 'italic', fontSize: 28, color: INK, lineHeight: 30, verticalAlign: 'middle' },
          s: { fontFamily: SERIF, fontSize: 18, color: INK, lineHeight: 24, verticalAlign: 'bottom' }
        }
      }
    }),
    Object.assign({}, axisCommon, {
      position: 'top', min: 0.7, max: 1.1445, interval: 0.1,
      axisLabel: { show: false }
    })
  ],
  yAxis: [
    Object.assign({}, axisCommon, {
      position: 'left', min: 0, max: 10, interval: 2,
      axisLabel: {
        show: true, margin: 10, fontFamily: SERIF, fontSize: 24, color: INK,
        formatter: v => { const t = yTicks.find(k => Math.abs(k - v) < 1e-6); return t === undefined ? '' : String(t); }
      },
      name: '{n|n}{e|e}{t| [10}{p|19}{t| m}{p|−3}{t|]}',
      nameLocation: 'middle', nameGap: 41, nameRotate: 90,
      nameTextStyle: {
        rich: {
          n: { fontFamily: SERIF, fontStyle: 'italic', fontSize: 29, color: INK, lineHeight: 38, verticalAlign: 'middle' },
          e: { fontFamily: SERIF, fontSize: 19, color: INK, lineHeight: 25, verticalAlign: 'bottom' },
          t: { fontFamily: SERIF, fontSize: 27, color: INK, lineHeight: 38, verticalAlign: 'middle' },
          p: { fontFamily: SERIF, fontSize: 18, color: INK, lineHeight: 21, verticalAlign: 'top' }
        }
      }
    })
  ],
  legend: {
    orient: 'vertical', left: 103, top: 217,
    padding: [7, 6, 7, 4],
    itemWidth: 60, itemHeight: 22, itemGap: 6.3,
    backgroundColor: '#ffffff', borderColor: '#3c3c3c', borderWidth: 1, borderRadius: 0,
    selectedMode: false,
    itemStyle: { borderWidth: 0, opacity: 1 },
    textStyle: { fontFamily: SERIF, fontSize: 23, color: '#1a1a1a' },
    data: [
      { name: seriesNames[0], icon: ICON_ERR, itemStyle: { color: COLORS.IDA, borderWidth: 0, opacity: 1 } },
      { name: seriesNames[1], icon: ICON_ERR, itemStyle: { color: COLORS.VTC, borderWidth: 0, opacity: 1 } },
      { name: seriesNames[2], icon: ICON_ERR, itemStyle: { color: COLORS.VTE, borderWidth: 0, opacity: 1 } },
      { name: seriesNames[3], icon: ICON_ERR, itemStyle: { color: COLORS.DCN, borderWidth: 0, opacity: 1 } },
      { name: seriesNames[4], icon: ICON_LINE, itemStyle: { color: COLORS.fit, borderWidth: 0, opacity: 1 } },
      { name: seriesNames[5], icon: ICON_DOT, itemStyle: { color: COLORS.knots, borderWidth: 0, opacity: 1 } },
      { name: seriesNames[6], icon: ICON_DOT, itemStyle: { color: COLORS.fitDCN, borderWidth: 0, opacity: 1 } }
    ]
  },
  series: [
    errSeries(seriesNames[0], idaPts, COLORS.IDA, '#1e3d55', 2.0, 6.5),
    errSeries(seriesNames[1], vtcPts, COLORS.VTC, '#06605a', 1.9, 6.5),
    errSeries(seriesNames[2], vtePts, COLORS.VTE, '#c2cb1d', 2.2, 7.5),
    errSeries(seriesNames[3], dcnPts, COLORS.DCN, '#e57a00', 1.8, 7),
    {
      name: seriesNames[4], type: 'line', data: fitLine,
      smooth: 0.3, smoothMonotone: 'x', showSymbol: false, symbol: 'none',
      lineStyle: { color: COLORS.fit, width: 7, opacity: 1 }, itemStyle: { color: COLORS.fit },
      clip: true, silent: true, z: 3
    },
    {
      name: seriesNames[5], type: 'scatter', data: knots,
      symbol: 'circle', symbolSize: 18,
      itemStyle: { color: COLORS.knots, borderWidth: 0, opacity: 1 }, silent: true, z: 4
    },
    {
      name: seriesNames[6], type: 'scatter', data: dcnFitPts,
      symbol: 'circle', symbolSize: 7,
      itemStyle: { color: COLORS.fitDCN, borderWidth: 0, opacity: 1 }, silent: true, z: 5
    }
  ]
});
</script>
</body>
</html>
